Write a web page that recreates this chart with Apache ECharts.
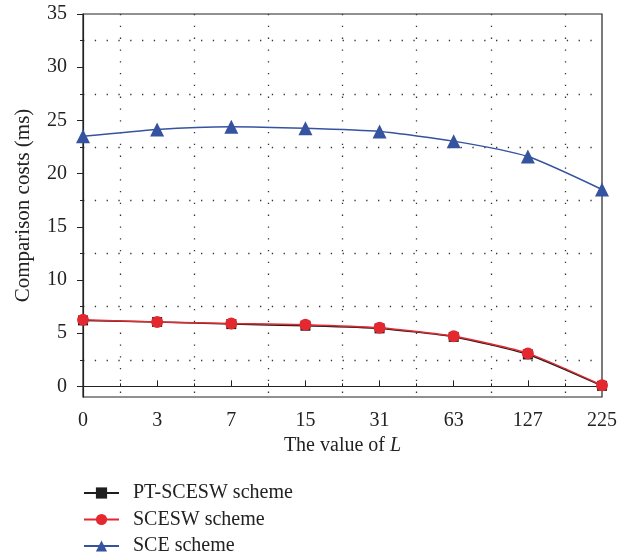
<!DOCTYPE html>
<html>
<head>
<meta charset="utf-8">
<script src="https://cdn.jsdelivr.net/npm/echarts@6/dist/echarts.min.js"></script>
<style>
html, body { margin: 0; padding: 0; background: #fff; }
#main { width: 634px; height: 556px; }
</style>
</head>
<body>
<div id="main"></div>
<script>
var categories = ['0', '3', '7', '15', '31', '63', '127', '225'];
var ptScesw = [6.2, 6.05, 5.85, 5.7, 5.45, 4.65, 3.0, 0.05];
var scesw = [6.25, 6.05, 5.9, 5.8, 5.5, 4.7, 3.1, 0.1];
var sce = [23.5, 24.15, 24.4, 24.25, 23.95, 23.05, 21.6, 18.5];
var yLabels = [0, 5, 10, 15, 20, 25, 30, 35];
var yGrid = [2.5, 7.5, 12.5, 17.5, 22.5, 27.5, 32.5];

function pairs(arr) {
    return arr.map(function (v, i) { return [i, v]; });
}

var font = '"Liberation Serif", "DejaVu Serif", serif';
var dotted = { color: '#333', width: 1.3, type: [1.3, 10.5] };

var myChart = echarts.init(document.getElementById('main'));
option = {
    animation: false,
    textStyle: { fontFamily: font },
    grid: {
        left: 83, right: 32, top: 14, bottom: 159,
        show: true, borderColor: '#222', borderWidth: 1.2
    },
    legend: {
        orient: 'vertical',
        left: 83,
        top: 483,
        padding: 0,
        itemWidth: 35,
        itemHeight: 14,
        itemGap: 6.5,
        textStyle: { fontFamily: font, fontSize: 20, lineHeight: 20, color: '#222', padding: [0, 0, 0, 9] },
        data: ['PT-SCESW scheme', 'SCESW scheme', 'SCE scheme']
    },
    xAxis: {
        type: 'value',
        min: 0,
        max: categories.length - 1,
        interval: 1,
        name: '{a|The value of }{b|L}',
        nameLocation: 'middle',
        nameGap: 35,
        nameTextStyle: {
            rich: {
                a: { fontFamily: font, fontSize: 20, color: '#222' },
                b: { fontFamily: font, fontSize: 20, color: '#222', fontStyle: 'italic' }
            }
        },
        axisLine: { lineStyle: { color: '#222', width: 1.2 } },
        axisTick: { inside: true, length: 6, lineStyle: { color: '#222' } },
        minorTick: { show: true, splitNumber: 2, length: 3, lineStyle: { color: '#222' } },
        minorSplitLine: { show: true, lineStyle: dotted },
        splitLine: { show: false },
        axisLabel: {
            fontFamily: font, fontSize: 20, color: '#222', margin: 14,
            formatter: function (v) { return categories[v]; }
        }
    },
    yAxis: [
        {
            type: 'value',
            min: -1,
            max: 35,
            name: 'Comparison costs (ms)',
            nameLocation: 'middle',
            nameGap: 49,
            nameTextStyle: { fontFamily: font, fontSize: 21, color: '#222' },
            axisLine: { show: true, lineStyle: { color: '#222', width: 1.2 } },
            axisTick: { show: true, length: 6, customValues: yLabels, lineStyle: { color: '#222' } },
            axisLabel: { fontFamily: font, fontSize: 20, color: '#222', margin: 16, customValues: yLabels },
            splitLine: { show: false }
        },
        {
            type: 'value',
            min: -1,
            max: 35,
            position: 'left',
            axisLine: { show: false },
            axisTick: { show: true, length: 3, customValues: yGrid, lineStyle: { color: '#222' } },
            axisLabel: { show: false },
            splitLine: { show: true, lineStyle: dotted }
        }
    ],
    series: [
        {
            name: 'PT-SCESW scheme',
            type: 'line',
            data: pairs(ptScesw),
            symbol: 'rect',
            symbolSize: 10,
            smooth: 0.2,
            itemStyle: { color: '#1e1e1e' },
            lineStyle: { color: '#1e1e1e', width: 1.5 }
        },
        {
            name: 'SCESW scheme',
            type: 'line',
            data: pairs(scesw),
            symbol: 'circle',
            symbolSize: 12,
            smooth: 0.2,
            itemStyle: { color: '#e3282f' },
            lineStyle: { color: '#e3282f', width: 1.5 }
        },
        {
            name: 'SCE scheme',
            type: 'line',
            data: pairs(sce),
            symbol: 'triangle',
            symbolSize: 14,
            smooth: 0.2,
            itemStyle: { color: '#3653a0' },
            lineStyle: { color: '#3653a0', width: 1.5 }
        }
    ]
};

myChart.setOption(option);
</script>
</body>
</html>
